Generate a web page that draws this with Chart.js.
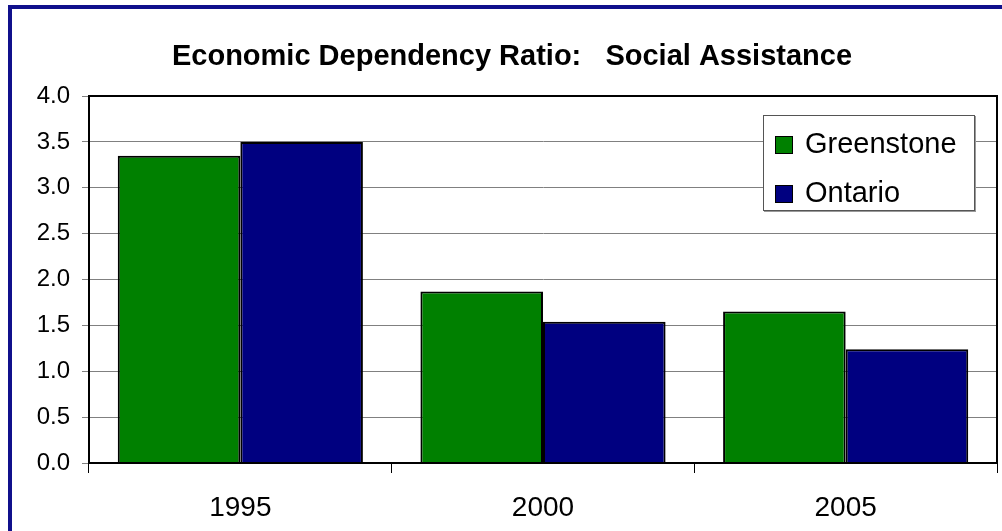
<!DOCTYPE html>
<html>
<head>
<meta charset="utf-8">
<script src="https://cdn.jsdelivr.net/npm/chart.js@4/dist/chart.umd.min.js"></script>
<style>
  html, body { margin: 0; padding: 0; background: #fff; }
  body { width: 1002px; height: 531px; position: relative; overflow: hidden; font-family: "Liberation Sans", Arial, sans-serif; }
  #chart { position: absolute; left: 0; top: 0; }
  #frame { position: absolute; left: 8px; top: 5px; width: 990px; height: 526px;
           border-left: 4px solid #10108c; border-top: 4px solid #10108c; pointer-events: none; }
  #legend { position: absolute; left: 763px; top: 115px; width: 210px; height: 94px;
            background: #fff; border: 1px solid #555; box-shadow: 1px 1px 0 #999; }
  #legend .row { position: absolute; left: 11px; height: 30px; line-height: 30px; font-size: 29px; color: #000; white-space: nowrap; }
  #legend .sw { display: inline-block; width: 16px; height: 16px; border: 1px solid #000; margin-right: 12px; vertical-align: -1px; }
</style>
</head>
<body>
<canvas id="chart" width="1002" height="531"></canvas>
<div id="frame"></div>
<div id="legend"></div>
<script>
// data
const years = ["1995", "2000", "2005"];
const seriesNames = ["Greenstone", "Ontario"];
const greenstone = [3.35, 1.87, 1.65];
const ontario = [3.5, 1.54, 1.24];
const titleText = "Economic Dependency Ratio:   Social Assistance";

const colors = ["#008000", "#000080"];
const font = "'Liberation Sans', Arial, sans-serif";

// black box round the plot area
const plotFrame = {
    id: "plotFrame",
    afterDraw: function (chart) {
        const a = chart.chartArea;
        const ctx = chart.ctx;
        ctx.save();
        ctx.strokeStyle = "#000";
        ctx.lineWidth = 2;
        ctx.strokeRect(a.left, a.top, a.right - a.left, a.bottom - a.top);
        ctx.restore();
    }
};

const data = {
    labels: years,
    datasets: [
        { label: seriesNames[0], data: greenstone, backgroundColor: colors[0], borderColor: "#000", borderWidth: 2 },
        { label: seriesNames[1], data: ontario, backgroundColor: colors[1], borderColor: "#000", borderWidth: 2 }
    ]
};

const options = {
    responsive: false,
    animation: false,
    devicePixelRatio: 1,
    layout: { padding: { left: 27, right: 5, top: 0, bottom: 0 } },
    datasets: { bar: { categoryPercentage: 0.81, barPercentage: 1.0 } },
    plugins: {
        legend: { display: false },
        tooltip: { enabled: false },
        title: {
            display: true,
            text: titleText,
            color: "#000",
            font: { family: font, size: 29, weight: "bold" },
            padding: { top: 39.6, bottom: 21.6 }
        }
    },
    scales: {
        x: {
            afterFit: function (s) { s.height = 68; },
            grid: { drawOnChartArea: false, tickLength: 10, color: "#000", offset: true },
            border: { display: true, color: "#000", width: 2 },
            ticks: { color: "#000", font: { family: font, size: 28 }, padding: 18 }
        },
        y: {
            min: 0,
            max: 4,
            afterFit: function (s) { s.width = 62; },
            grid: { color: "#808080", lineWidth: 1, tickLength: 7, tickColor: "#808080" },
            border: { display: true, color: "#000", width: 2 },
            ticks: {
                stepSize: 0.5,
                color: "#000",
                padding: 12,
                font: { family: font, size: 24 },
                callback: function (v) { return v.toFixed(1); }
            }
        }
    }
};

const myChart = new Chart(document.getElementById("chart").getContext("2d"), {
    type: "bar",
    data: data,
    options: options,
    plugins: [plotFrame]
});

// legend box in the plot's upper right
const legend = document.getElementById("legend");
const rowTops = [12, 61];
myChart.data.datasets.forEach(function (ds, i) {
    const row = document.createElement("div");
    row.className = "row";
    row.style.top = rowTops[i] + "px";
    row.innerHTML = "<span class='sw' style='background:" + ds.backgroundColor + "'></span>" + ds.label;
    legend.appendChild(row);
});
</script>
</body>
</html>
